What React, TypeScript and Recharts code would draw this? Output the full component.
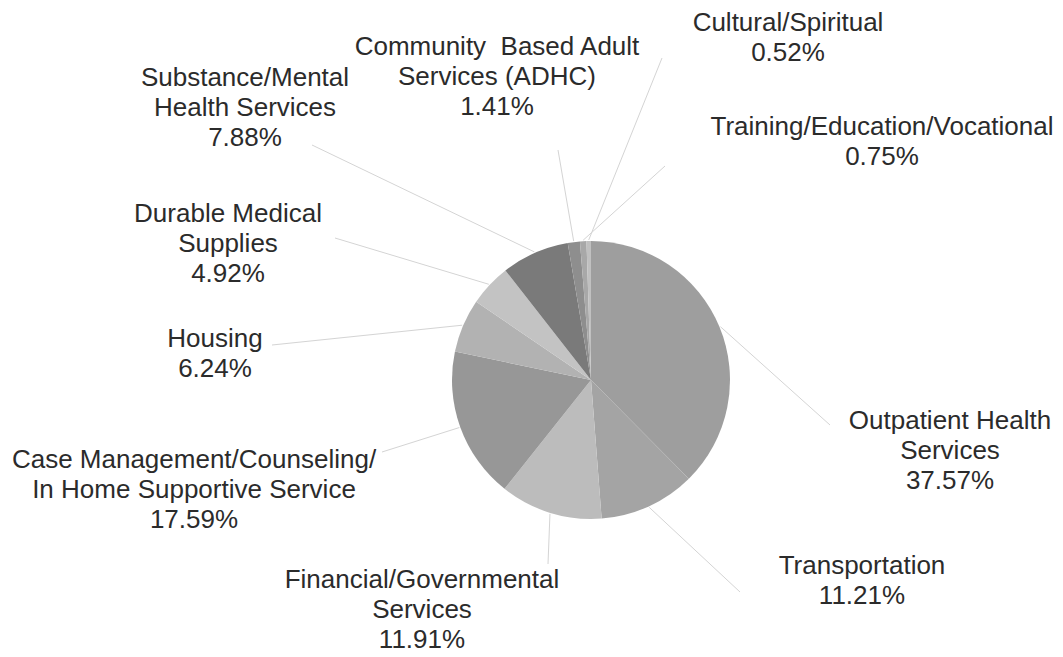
import { PieChart, Pie, Cell } from "recharts";

const categories = [
  "Outpatient Health Services",
  "Transportation",
  "Financial/Governmental Services",
  "Case Management/Counseling/In Home Supportive Service",
  "Housing",
  "Durable Medical Supplies",
  "Substance/Mental Health Services",
  "Community Based Adult Services (ADHC)",
  "Training/Education/Vocational",
  "Cultural/Spiritual",
];

const shares = [37.57, 11.21, 11.91, 17.59, 6.24, 4.92, 7.88, 1.41, 0.75, 0.52];

// how each category name is wrapped in its label
const labelLines = [
  ["Outpatient Health", "Services"],
  ["Transportation"],
  ["Financial/Governmental", "Services"],
  ["Case Management/Counseling/", "In Home Supportive Service"],
  ["Housing"],
  ["Durable Medical", "Supplies"],
  ["Substance/Mental", "Health Services"],
  ["Community  Based Adult", "Services (ADHC)"],
  ["Training/Education/Vocational"],
  ["Cultural/Spiritual"],
];

const colors = [
  "#9e9e9e",
  "#a4a4a4",
  "#bcbcbc",
  "#979797",
  "#b2b2b2",
  "#c3c3c3",
  "#7a7a7a",
  "#8e8e8e",
  "#a8a8a8",
  "#c0c0c0",
];

// label block layout: text centre x, first baseline y, leader line end
const labelLayout = [
  { x: 950, y: 429, lx: 830, ly: 425 },
  { x: 862, y: 574, lx: 740, ly: 592 },
  { x: 422, y: 588, lx: 548, ly: 564 },
  { x: 194, y: 468, lx: 382, ly: 452 },
  { x: 215, y: 347, lx: 272, ly: 345 },
  { x: 228, y: 222, lx: 335, ly: 238 },
  { x: 245, y: 86, lx: 312, ly: 145 },
  { x: 497, y: 55, lx: 558, ly: 150 },
  { x: 882, y: 135, lx: 665, ly: 166 },
  { x: 788, y: 31, lx: 662, ly: 58 },
];

const data = categories.map((name, i) => ({ name, value: shares[i] }));

const RADIAN = Math.PI / 180;
const LINE_H = 30;

function renderLabel(props: any) {
  const { cx, cy, midAngle, outerRadius, index, value } = props;
  const pos = labelLayout[index];
  const ex = cx + (outerRadius + 1) * Math.cos(-midAngle * RADIAN);
  const ey = cy + (outerRadius + 1) * Math.sin(-midAngle * RADIAN);
  const lines = [...labelLines[index], `${Number(value).toFixed(2)}%`];
  return (
    <g key={`lbl-${index}`}>
      <line x1={ex} y1={ey} x2={pos.lx} y2={pos.ly} stroke="#d4d4d4" strokeWidth={1} />
      <text
        x={pos.x}
        y={pos.y}
        textAnchor="middle"
        fill="#2b2b2b"
        fontSize={26}
        fontFamily="'Liberation Sans', Arial, sans-serif"
      >
        {lines.map((t, k) => (
          <tspan key={k} x={pos.x} y={pos.y + k * LINE_H} style={{ whiteSpace: "pre" }}>
            {t}
          </tspan>
        ))}
      </text>
    </g>
  );
}

export default function App() {
  return (
    <div style={{ position: "absolute", left: 0, top: 0, width: 1063, height: 657, background: "#ffffff" }}>
      <PieChart width={1063} height={657} margin={{ top: 0, right: 0, bottom: 0, left: 0 }}>
        <Pie
          data={data}
          dataKey="value"
          nameKey="name"
          cx={591}
          cy={380}
          outerRadius={139}
          startAngle={90}
          endAngle={-270}
          stroke="none"
          label={renderLabel}
          labelLine={false}
          isAnimationActive={false}
        >
          {data.map((d, i) => (
            <Cell key={d.name} fill={colors[i]} />
          ))}
        </Pie>
      </PieChart>
    </div>
  );
}
